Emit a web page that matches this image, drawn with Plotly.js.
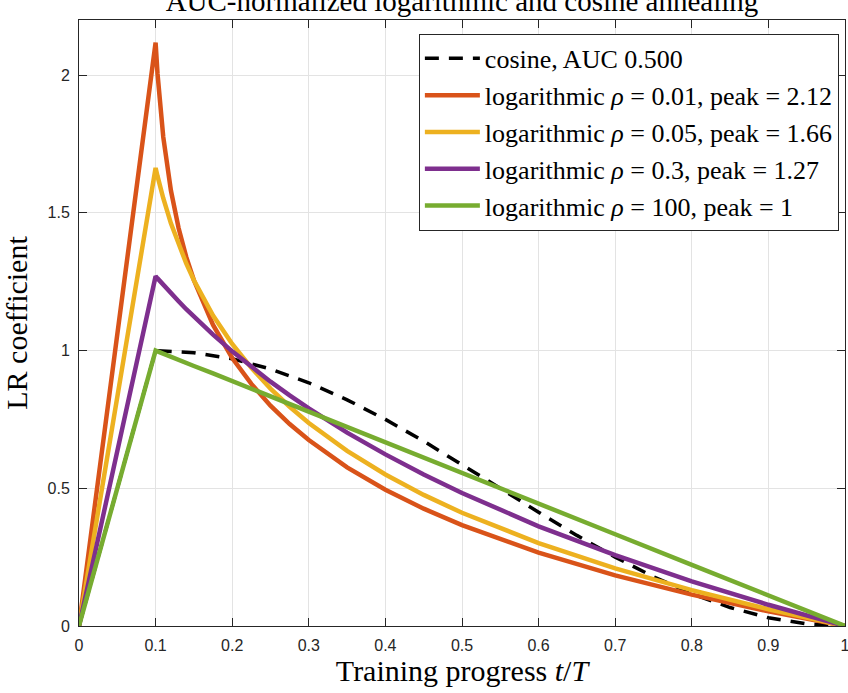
<!DOCTYPE html>
<html>
<head>
<meta charset="utf-8">
<script src="https://cdn.plot.ly/plotly-3.0.1.min.js"></script>
<style>
  html, body { margin: 0; padding: 0; background: #fff; }
  #chart { width: 848px; height: 693px; }
</style>
</head>
<body>
<div id="chart"></div>
<script>
// training progress t/T for the logarithmic schedules
var t = [0, 0.1, 0.1025, 0.105, 0.1075, 0.11, 0.12, 0.13, 0.14, 0.15, 0.175, 0.2, 0.225,
         0.25, 0.275, 0.3, 0.35, 0.4, 0.45, 0.5, 0.6, 0.7, 0.8, 0.9, 1];
var logRho001 = [0, 2.118, 2.005, 1.915, 1.840, 1.775, 1.581, 1.445, 1.340, 1.255, 1.093, 0.973, 0.879,
                 0.800, 0.733, 0.675, 0.576, 0.495, 0.426, 0.366, 0.266, 0.184, 0.114, 0.053, 0];
var logRho005 = [0, 1.663, 1.633, 1.605, 1.579, 1.553, 1.462, 1.384, 1.316, 1.255, 1.127, 1.024, 0.937,
                 0.862, 0.796, 0.737, 0.636, 0.550, 0.476, 0.411, 0.301, 0.209, 0.130, 0.061, 0];
var logRho03 = [0, 1.270, 1.262, 1.254, 1.246, 1.238, 1.208, 1.179, 1.150, 1.123, 1.058, 0.997, 0.940,
                0.887, 0.837, 0.790, 0.702, 0.623, 0.550, 0.483, 0.362, 0.257, 0.162, 0.077, 0];
var logRho100 = [0, 1, 0.997, 0.994, 0.992, 0.989, 0.978, 0.967, 0.956, 0.944, 0.917, 0.889, 0.861,
                 0.833, 0.806, 0.778, 0.722, 0.667, 0.611, 0.556, 0.444, 0.333, 0.222, 0.111, 0];

// cosine schedule
var tCos = [0, 0.1, 0.15, 0.2, 0.25, 0.3, 0.35, 0.4, 0.45, 0.5, 0.55, 0.6, 0.65, 0.7, 0.75, 0.8,
            0.85, 0.9, 0.95, 1];
var cosine = [0, 1, 0.992, 0.970, 0.933, 0.883, 0.821, 0.750, 0.671, 0.587, 0.500, 0.413, 0.329,
              0.250, 0.179, 0.117, 0.067, 0.030, 0.008, 0];

var names = [
    'cosine, AUC 0.500',
    'logarithmic <i>ρ</i> = 0.01, peak = 2.12',
    'logarithmic <i>ρ</i> = 0.05, peak = 1.66',
    'logarithmic <i>ρ</i> = 0.3, peak = 1.27',
    'logarithmic <i>ρ</i> = 100, peak = 1'
];
var colors = ['#000000', '#D95319', '#EDB120', '#7E2F8E', '#77AC30'];

var xTicks = [0, 0.1, 0.2, 0.3, 0.4, 0.5, 0.6, 0.7, 0.8, 0.9, 1];
var xTickText = ['0', '0.1', '0.2', '0.3', '0.4', '0.5', '0.6', '0.7', '0.8', '0.9', '1'];
var yTicks = [0, 0.5, 1, 1.5, 2];
var yTickText = ['0', '0.5', '1', '1.5', '2'];

var serif = 'Liberation Serif, Times New Roman, serif';
var sans = 'Liberation Sans, Arial, sans-serif';

var logSeries = [logRho001, logRho005, logRho03, logRho100];

var data = [{
    x: tCos,
    y: cosine,
    name: names[0],
    mode: 'lines',
    line: { color: colors[0], width: 3.5, dash: '14px,10px' }
}];
for (var i = 0; i < logSeries.length; i++) {
    data.push({
        x: t,
        y: logSeries[i],
        name: names[i + 1],
        mode: 'lines',
        line: { color: colors[i + 1], width: 4.5 }
    });
}

var axisCommon = {
    showline: true,
    linecolor: '#262626',
    linewidth: 1,
    mirror: 'ticks',
    ticks: 'inside',
    ticklen: 8,
    tickcolor: '#262626',
    showgrid: true,
    gridcolor: '#e3e3e3',
    gridwidth: 1,
    zeroline: false,
    ticklabeloverflow: 'allow',
    tickfont: { family: sans, size: 16, color: '#262626' }
};

var layout = {
    width: 848,
    height: 693,
    margin: { l: 79, r: 3, t: 20, b: 67 },
    paper_bgcolor: '#ffffff',
    plot_bgcolor: '#ffffff',
    showlegend: true,
    title: {
        text: 'AUC-normalized logarithmic and cosine annealing',
        font: { family: serif, size: 29, color: '#000000' },
        x: 0.5,
        xref: 'paper',
        xanchor: 'center',
        yref: 'container',
        y: 0.984,
        yanchor: 'bottom'
    },
    xaxis: Object.assign({}, axisCommon, {
        range: [0, 1],
        tickmode: 'array',
        tickvals: xTicks,
        ticktext: xTickText,
        ticklabelstandoff: 5,
        title: {
            text: 'Training progress <i>t</i>/<i>T</i>',
            font: { family: serif, size: 30, color: '#000000' },
            standoff: 0
        }
    }),
    yaxis: Object.assign({}, axisCommon, {
        range: [0, 2.2],
        tickmode: 'array',
        tickvals: yTicks,
        ticktext: yTickText,
        ticklabelstandoff: 5,
        title: {
            text: 'LR coefficient',
            font: { family: serif, size: 30, color: '#000000' },
            standoff: 14
        }
    }),
    legend: {
        x: 0.992,
        xanchor: 'right',
        y: 0.977,
        yanchor: 'top',
        bgcolor: '#ffffff',
        bordercolor: '#262626',
        borderwidth: 1,
        tracegroupgap: 0,
        itemwidth: 55,
        font: { family: serif, size: 26, color: '#000000' }
    }
};

Plotly.newPlot('chart', data, layout, { displayModeBar: false, staticPlot: true });
</script>
</body>
</html>
